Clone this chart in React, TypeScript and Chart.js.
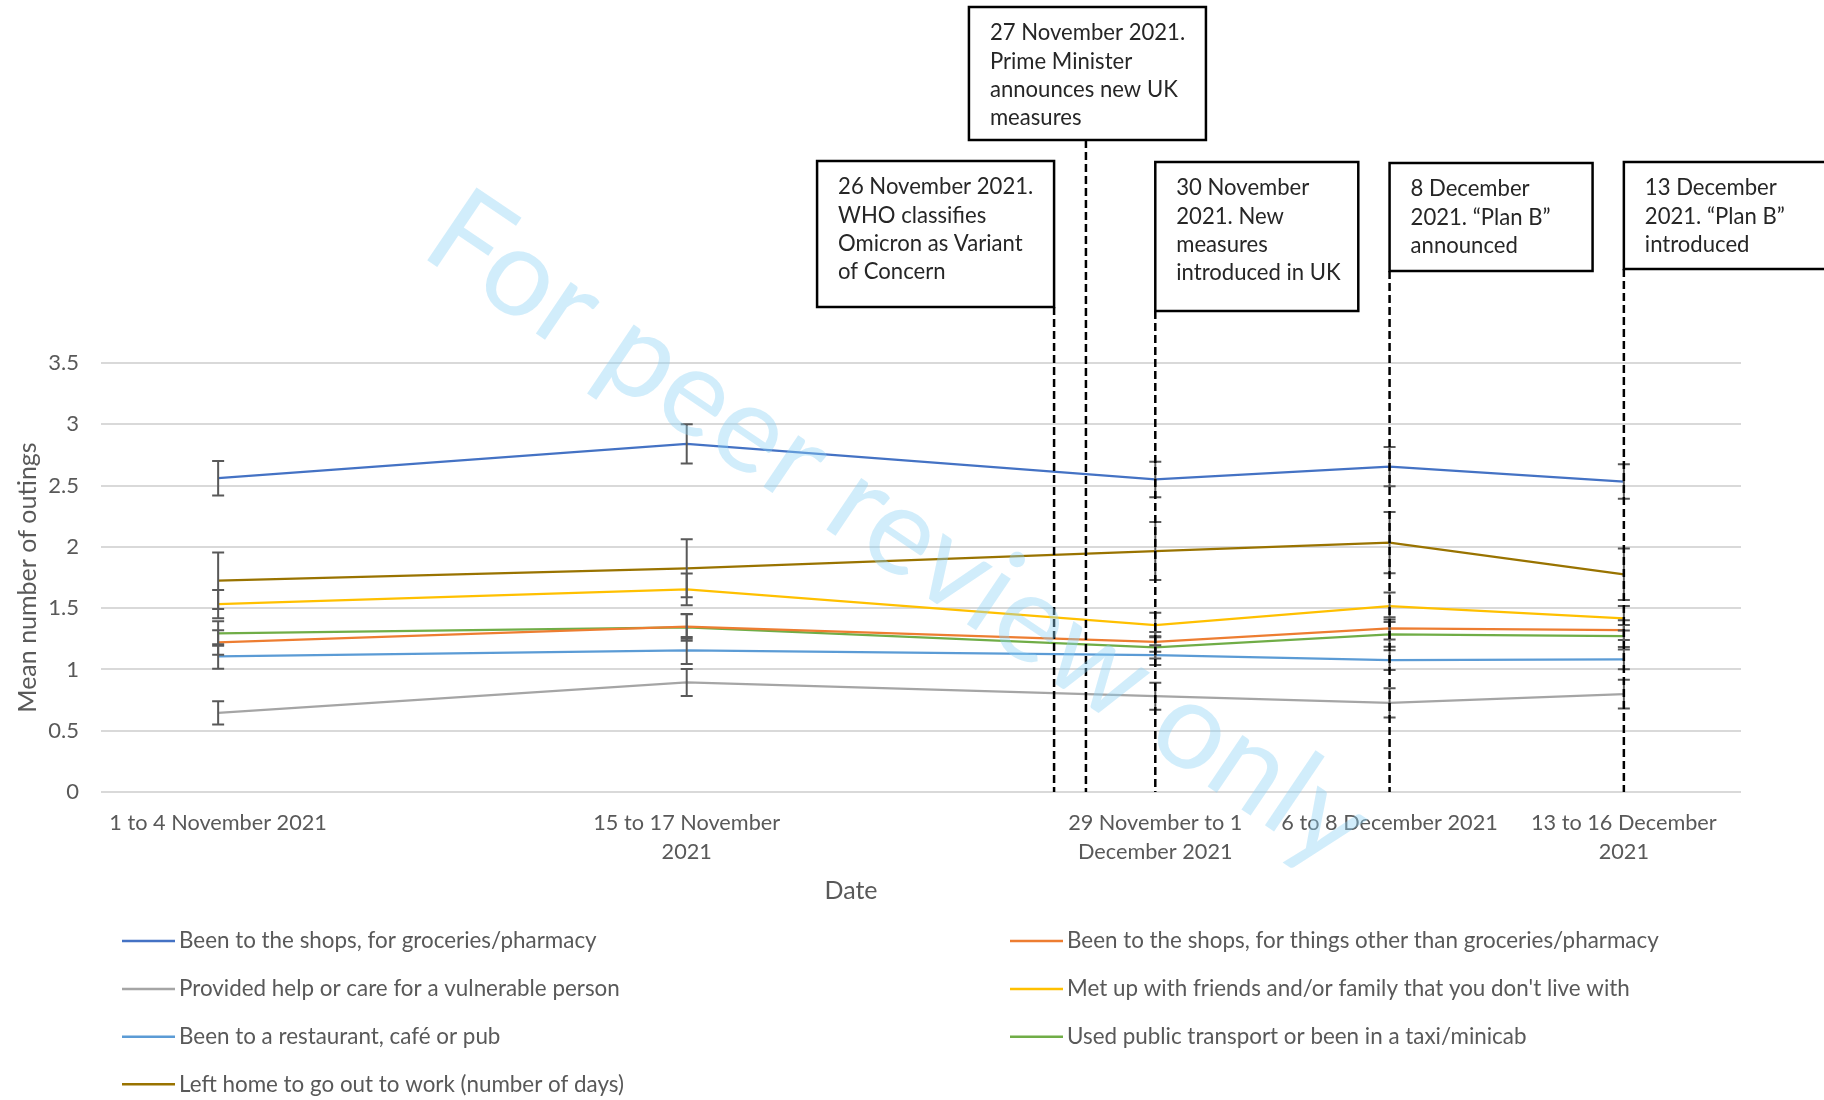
import React, { useEffect, useRef } from 'react';
import { Chart, registerables } from 'chart.js';

Chart.register(...registerables);

const FONT = 'Lato, "Noto Sans", "Liberation Sans", sans-serif';
const TEXT_GREY = '#595959';

// ---- Data ----
const dateLabels = [
  '1 to 4 November 2021',
  '',
  '15 to 17 November 2021',
  '',
  '29 November to 1 December 2021',
  '6 to 8 December 2021',
  '13 to 16 December 2021',
];
const tickLabels: string[][] = [
  ['1 to 4 November 2021'],
  [''],
  ['15 to 17 November', '2021'],
  [''],
  ['29 November to 1', 'December 2021'],
  ['6 to 8 December 2021'],
  ['13 to 16 December', '2021'],
];

const seriesNames = [
  'Been to the shops, for groceries/pharmacy',
  'Been to the shops, for things other than groceries/pharmacy',
  'Provided help or care for a vulnerable person',
  "Met up with friends and/or family that you don't live with",
  'Been to a restaurant, café or pub',
  'Used public transport or been in a taxi/minicab',
  'Left home to go out to work (number of days)',
];
const seriesColors = ['#4472C4', '#ED7D31', '#A5A5A5', '#FFC000', '#5B9BD5', '#70AD47', '#997300'];

const groceries = [2.56, null, 2.84, null, 2.55, 2.655, 2.533];
const otherShops = [1.22, null, 1.35, null, 1.225, 1.335, 1.321];
const vulnerable = [0.645, null, 0.894, null, 0.782, 0.727, 0.798];
const friends = [1.533, null, 1.653, null, 1.362, 1.517, 1.417];
const restaurant = [1.106, null, 1.155, null, 1.117, 1.076, 1.082];
const transport = [1.294, null, 1.343, null, 1.18, 1.286, 1.272];
const work = [1.724, null, 1.825, null, 1.966, 2.034, 1.776];

const groceriesErr = [0.14, null, 0.16, null, 0.145, 0.16, 0.14];
const otherShopsErr = [0.1, null, 0.1, null, 0.08, 0.09, 0.08];
const vulnerableErr = [0.095, null, 0.11, null, 0.11, 0.12, 0.117];
const friendsErr = [0.115, null, 0.13, null, 0.1, 0.11, 0.1];
const restaurantErr = [0.1, null, 0.11, null, 0.08, 0.08, 0.08];
const transportErr = [0.1, null, 0.11, null, 0.09, 0.1, 0.09];
const workErr = [0.23, null, 0.237, null, 0.236, 0.25, 0.21];

const seriesValues = [groceries, otherShops, vulnerable, friends, restaurant, transport, work];
const seriesErrors = [groceriesErr, otherShopsErr, vulnerableErr, friendsErr, restaurantErr, transportErr, workErr];

// Events (position on the category axis, as fractional index)
const eventPositions = [3.568, 3.704, 4, 5, 6];
const eventTexts: string[][] = [
  ['26 November 2021.', 'WHO classifies', 'Omicron as Variant', 'of Concern'],
  ['27 November 2021.', 'Prime Minister', 'announces new UK', 'measures'],
  ['30 November', '2021. New', 'measures', 'introduced in UK'],
  ['8 December', '2021. \u201CPlan B\u201D', 'announced'],
  ['13 December', '2021. \u201CPlan B\u201D', 'introduced'],
];
// box layout relative to the event line: [leftOffset, width, top, bottom]
const eventBoxes = [
  [-237, 237, 161, 307],
  [-117, 237, 7, 140],
  [0, 203, 162, 311],
  [0, 203, 163, 271],
  [0, 240, 162, 269],
];

export default function App() {
  const ref = useRef<HTMLCanvasElement>(null);

  useEffect(() => {
    const canvas = ref.current;
    if (!canvas) return;

    const datasets = seriesNames.map((name, i) => ({
      label: name,
      data: seriesValues[i],
      borderColor: seriesColors[i],
      backgroundColor: seriesColors[i],
      borderWidth: 2.25,
      pointRadius: 0,
      pointHoverRadius: 0,
      tension: 0,
      fill: false,
      spanGaps: true,
    }));

    const watermarkPlugin = {
      id: 'watermark',
      afterDraw(chart: any) {
        const ctx = chart.ctx;
        ctx.save();
        const text = 'For peer review only';
        let size = 120;
        ctx.font = `400 ${size}px ${FONT}`;
        const w = ctx.measureText(text).width;
        size = (size * 1105) / w;
        ctx.font = `400 ${size}px ${FONT}`;
        ctx.translate(898, 530);
        ctx.rotate((34 * Math.PI) / 180);
        ctx.fillStyle = 'rgba(140, 210, 245, 0.4)';
        ctx.textAlign = 'center';
        ctx.textBaseline = 'middle';
        ctx.fillText(text, 0, 0);
        ctx.restore();
      },
    };

    const errorBarPlugin = {
      id: 'errorBars',
      afterDatasetsDraw(chart: any) {
        const ctx = chart.ctx;
        const yScale = chart.scales.y;
        ctx.save();
        ctx.strokeStyle = '#595959';
        ctx.lineWidth = 2;
        seriesErrors.forEach((errs, d) => {
          const meta = chart.getDatasetMeta(d);
          errs.forEach((e, i) => {
            const v = seriesValues[d][i];
            if (e == null || v == null) return;
            const pt = meta.data[i];
            if (!pt) return;
            const x = pt.x;
            const yT = yScale.getPixelForValue(v + e);
            const yB = yScale.getPixelForValue(v - e);
            ctx.beginPath();
            ctx.moveTo(x, yT);
            ctx.lineTo(x, yB);
            ctx.moveTo(x - 6, yT);
            ctx.lineTo(x + 6, yT);
            ctx.moveTo(x - 6, yB);
            ctx.lineTo(x + 6, yB);
            ctx.stroke();
          });
        });
        ctx.restore();
      },
    };

    const eventsPlugin = {
      id: 'events',
      afterDraw(chart: any) {
        const ctx = chart.ctx;
        const xScale = chart.scales.x;
        const bottom = chart.chartArea.bottom;
        ctx.save();
        eventPositions.forEach((pos, k) => {
          const lx = xScale.getPixelForValue(pos);
          const [off, w, top, bot] = eventBoxes[k];
          ctx.setLineDash([8, 4]);
          ctx.strokeStyle = '#000';
          ctx.lineWidth = 2.5;
          ctx.beginPath();
          ctx.moveTo(lx, bot);
          ctx.lineTo(lx, bottom);
          ctx.stroke();
          ctx.setLineDash([]);
          const left = lx + off;
          ctx.fillStyle = '#fff';
          ctx.fillRect(left, top, w, bot - top);
          ctx.lineWidth = 2.5;
          ctx.strokeRect(left, top, w, bot - top);
          ctx.fillStyle = '#262626';
          ctx.font = `22.1px ${FONT}`;
          ctx.textAlign = 'left';
          ctx.textBaseline = 'middle';
          eventTexts[k].forEach((line, j) => {
            ctx.fillText(line, left + 21, top + 26 + j * 28.4);
          });
        });
        ctx.restore();
      },
    };

    const legendPlugin = {
      id: 'customLegend',
      afterDraw(chart: any) {
        const ctx = chart.ctx;
        const rowsY = [941, 989, 1036.7, 1084.3];
        const cols = [
          { x1: 122, x2: 175, tx: 179 },
          { x1: 1010, x2: 1063, tx: 1067 },
        ];
        ctx.save();
        ctx.font = `22.4px ${FONT}`;
        ctx.textAlign = 'left';
        ctx.textBaseline = 'middle';
        seriesNames.forEach((name, i) => {
          const c = cols[i % 2];
          const y = rowsY[Math.floor(i / 2)];
          ctx.strokeStyle = seriesColors[i];
          ctx.lineWidth = 2.5;
          ctx.beginPath();
          ctx.moveTo(c.x1, y);
          ctx.lineTo(c.x2, y);
          ctx.stroke();
          ctx.fillStyle = TEXT_GREY;
          ctx.fillText(name, c.tx, y);
        });
        // x axis title
        ctx.font = `25px ${FONT}`;
        ctx.textAlign = 'center';
        ctx.fillText('Date', 851, 891);
        ctx.restore();
      },
    };

    const chart = new Chart(canvas, {
      type: 'line',
      data: { labels: dateLabels, datasets: datasets as any },
      options: {
        responsive: false,
        animation: false,
        devicePixelRatio: 1,
        layout: { padding: { top: 363, left: 0, right: 83, bottom: 188 } },
        plugins: {
          legend: { display: false },
          tooltip: { enabled: false },
        },
        scales: {
          x: {
            type: 'category',
            offset: true,
            grid: { display: false, drawTicks: false },
            border: { display: false },
            ticks: {
              autoSkip: false,
              maxRotation: 0,
              minRotation: 0,
              padding: 16,
              color: TEXT_GREY,
              font: { family: FONT, size: 21.7, lineHeight: 1.35 },
              callback: (_v: any, i: number) => tickLabels[i],
            },
            title: { display: false },
            afterFit: (s: any) => {
              s.height = 120;
            },
          },
          y: {
            min: 0,
            max: 3.5,
            grid: { color: '#D9D9D9', lineWidth: 2, drawTicks: false },
            border: { display: false },
            ticks: {
              stepSize: 0.5,
              padding: 22,
              color: TEXT_GREY,
              font: { family: FONT, size: 22 },
              callback: (v: any) => String(v),
            },
            title: {
              display: true,
              text: 'Mean number of outings',
              color: TEXT_GREY,
              font: { family: FONT, size: 25 },
              padding: { top: 13, bottom: 0 },
            },
            afterFit: (s: any) => {
              s.width = 101;
            },
          },
        },
      },
      plugins: [errorBarPlugin, eventsPlugin, legendPlugin, watermarkPlugin],
    } as any);

    return () => chart.destroy();
  }, []);

  return (
    <div style={{ position: 'fixed', left: 0, top: 0, width: 1824, height: 1100, background: '#fff' }}>
      <canvas ref={ref} width={1824} height={1100} style={{ width: 1824, height: 1100, display: 'block' }} />
    </div>
  );
}
